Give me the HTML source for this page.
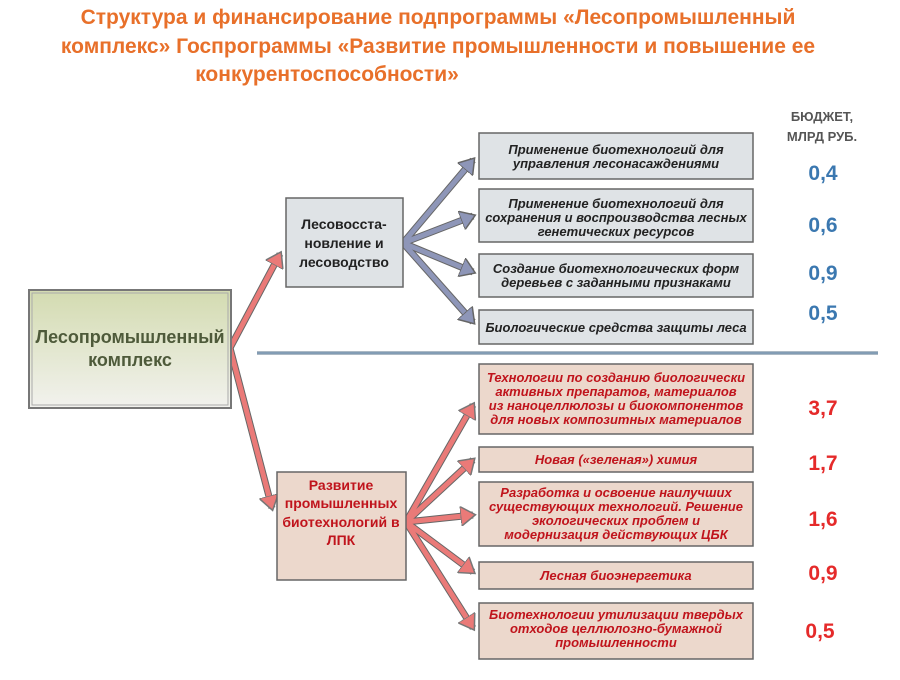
<!DOCTYPE html>
<html><head><meta charset="utf-8"><style>
body{margin:0;background:#fff}
svg text{font-family:"Liberation Sans","Noto Sans CJK SC",sans-serif}
</style></head><body>
<svg width="900" height="675" viewBox="0 0 900 675" xmlns="http://www.w3.org/2000/svg">
<defs>
<linearGradient id="gg" x1="0" y1="0" x2="0" y2="1"><stop offset="0" stop-color="#d3dbb0"/><stop offset="1" stop-color="#f2f2ee"/></linearGradient>
<marker id="ab" markerWidth="4" markerHeight="4" refX="2.5" refY="2" orient="auto" markerUnits="strokeWidth"><path d="M0,0 L3,2 L0,4 Z" fill="#8e96b8" stroke="#666" stroke-width="0.3"/></marker>
<marker id="ar" markerWidth="4" markerHeight="4" refX="2.5" refY="2" orient="auto" markerUnits="strokeWidth"><path d="M0,0 L3,2 L0,4 Z" fill="#ea7a78" stroke="#777" stroke-width="0.3"/></marker>
</defs>
<g font-weight="bold" fill="#e8702a" font-size="21" text-anchor="middle">
<text x="438" y="24">Структура и финансирование подпрограммы «Лесопромышленный</text>
<text x="438" y="53">комплекс» Госпрограммы «Развитие промышленности и повышение ее</text>
<text x="327" y="81">конкурентоспособности»</text>
</g>
<g font-weight="bold" fill="#555" font-size="13" text-anchor="middle">
<text x="822" y="121">БЮДЖЕТ,</text><text x="822" y="141">МЛРД РУБ.</text>
</g>
<g font-weight="bold" font-size="21" text-anchor="middle" fill="#3b78b0">
<text x="823" y="180">0,4</text><text x="823" y="232">0,6</text><text x="823" y="280">0,9</text><text x="823" y="320">0,5</text>
</g>
<g font-weight="bold" font-size="21" text-anchor="middle" fill="#e52a2a">
<text x="823" y="415">3,7</text><text x="823" y="470">1,7</text><text x="823" y="526">1,6</text><text x="823" y="580">0,9</text><text x="820" y="638">0,5</text>
</g>
<line x1="257" y1="353" x2="878" y2="353" stroke="#5a7388" stroke-width="3"/>
<line x1="257" y1="353" x2="878" y2="353" stroke="#aac6e0" stroke-width="1"/>
<g stroke-linecap="butt">
<g stroke="#666" stroke-width="7" fill="none">
<line x1="230" y1="348" x2="280" y2="254"/><line x1="230" y1="348" x2="272" y2="508"/>
<line x1="403" y1="243" x2="473" y2="160"/><line x1="403" y1="243" x2="473" y2="216"/><line x1="403" y1="243" x2="473" y2="272"/><line x1="403" y1="243" x2="473" y2="322"/>
<line x1="406" y1="522" x2="473" y2="405"/><line x1="406" y1="522" x2="473" y2="460"/><line x1="406" y1="522" x2="473" y2="515"/><line x1="406" y1="522" x2="473" y2="572"/><line x1="406" y1="522" x2="473" y2="628"/>
</g>
<g stroke="#ea7a78" stroke-width="5" fill="none" marker-end="url(#ar)">
<line x1="230" y1="348" x2="280" y2="254"/><line x1="230" y1="348" x2="272" y2="508"/>
<line x1="406" y1="522" x2="473" y2="405"/><line x1="406" y1="522" x2="473" y2="460"/><line x1="406" y1="522" x2="473" y2="515"/><line x1="406" y1="522" x2="473" y2="572"/><line x1="406" y1="522" x2="473" y2="628"/>
</g>
<g stroke="#8e96b8" stroke-width="5" fill="none" marker-end="url(#ab)">
<line x1="403" y1="243" x2="473" y2="160"/><line x1="403" y1="243" x2="473" y2="216"/><line x1="403" y1="243" x2="473" y2="272"/><line x1="403" y1="243" x2="473" y2="322"/>
</g>
</g>
<rect x="29" y="290" width="202" height="118" fill="url(#gg)" stroke="#777" stroke-width="2"/>
<rect x="32" y="293" width="196" height="112" fill="none" stroke="#aaa" stroke-width="1"/>
<g font-weight="bold" font-size="18" fill="#4e5a3a" text-anchor="middle">
<text x="130" y="343">Лесопромышленный</text><text x="130" y="366">комплекс</text>
</g>
<g fill="#dfe3e6" stroke="#666" stroke-width="1.5">
<rect x="286" y="198" width="117" height="89"/>
<rect x="479" y="133" width="274" height="46"/>
<rect x="479" y="189" width="274" height="53"/>
<rect x="479" y="254" width="274" height="43"/>
<rect x="479" y="310" width="274" height="34"/>
</g>
<g font-weight="bold" font-size="14" fill="#222" text-anchor="middle">
<text x="344" y="229">Лесовосста-</text><text x="344" y="248">новление и</text><text x="344" y="267">лесоводство</text>
</g>
<g font-weight="bold" font-style="italic" font-size="13" fill="#222" text-anchor="middle">
<text x="616" y="154">Применение биотехнологий для</text><text x="616" y="168">управления лесонасаждениями</text>
<text x="616" y="208">Применение биотехнологий для</text><text x="616" y="222">сохранения и воспроизводства лесных</text><text x="616" y="236">генетических ресурсов</text>
<text x="616" y="273">Создание биотехнологических форм</text><text x="616" y="287">деревьев с заданными признаками</text>
<text x="616" y="332">Биологические средства защиты леса</text>
</g>
<g fill="#ecd8cc" stroke="#666" stroke-width="1.5">
<rect x="277" y="472" width="129" height="108"/>
<rect x="479" y="364" width="274" height="70"/>
<rect x="479" y="447" width="274" height="25"/>
<rect x="479" y="482" width="274" height="64"/>
<rect x="479" y="562" width="274" height="27"/>
<rect x="479" y="603" width="274" height="56"/>
</g>
<g font-weight="bold" font-size="14" fill="#c0141c" text-anchor="middle">
<text x="341" y="490">Развитие</text><text x="341" y="508">промышленных</text><text x="341" y="527">биотехнологий в</text><text x="341" y="545">ЛПК</text>
</g>
<g font-weight="bold" font-style="italic" font-size="13" fill="#c0141c" text-anchor="middle">
<text x="616" y="382">Технологии по созданию биологически</text><text x="616" y="396">активных препаратов, материалов</text><text x="616" y="410">из наноцеллюлозы и биокомпонентов</text><text x="616" y="424">для новых композитных материалов</text>
<text x="616" y="464">Новая («зеленая») химия</text>
<text x="616" y="497">Разработка и освоение наилучших</text><text x="616" y="511">существующих технологий. Решение</text><text x="616" y="525">экологических проблем и</text><text x="616" y="539">модернизация действующих ЦБК</text>
<text x="616" y="580">Лесная биоэнергетика</text>
<text x="616" y="619">Биотехнологии утилизации твердых</text><text x="616" y="633">отходов  целлюлозно-бумажной</text><text x="616" y="647">промышленности</text>
</g>
</svg>
</body></html>
